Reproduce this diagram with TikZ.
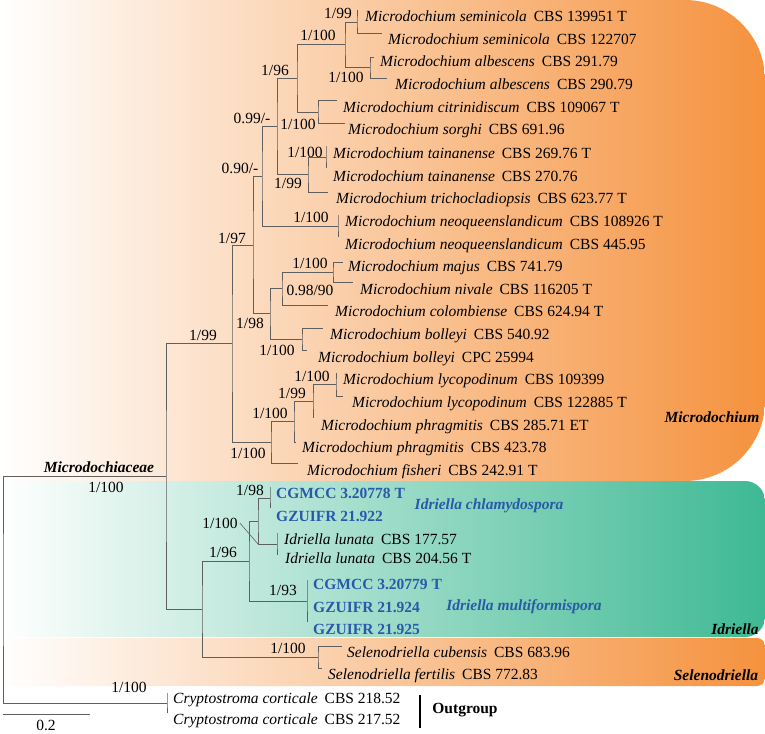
\documentclass[tikz,border=0pt]{standalone}
\usepackage{fontspec}
\setmainfont{Liberation Serif}
\usepackage{tikz}
\definecolor{mdorange}{RGB}{245,146,62}
\definecolor{idteal}{RGB}{62,185,147}
\definecolor{brgray}{RGB}{95,95,95}
\definecolor{idblue}{RGB}{40,90,170}
\newcommand{\taxon}[2]{\textit{#1}\hspace{0.45em}#2}

\begin{document}
\begin{tikzpicture}[x=1pt, y=-1pt, font=\fontsize{15.5}{18}\selectfont,
    branch/.style={brgray, line width=0.8pt},
    taxon/.style={anchor=base west, inner sep=0pt, yshift=-5pt},
    newtaxon/.style={taxon, idblue, font=\fontsize{15.5}{18}\selectfont\bfseries},
    support/.style={inner sep=0pt},
    clade/.style={inner sep=0pt, font=\fontsize{15.5}{18}\selectfont\bfseries\itshape}]
  \useasboundingbox (0,0) rectangle (765,733);

  % Clade backgrounds
  \shade[left color=white, right color=mdorange] %
    (0,0) -- (685,0) arc[start angle=-90, end angle=0, radius=80] %
    -- (765,401) arc[start angle=0, end angle=90, radius=80] -- (0,481) -- cycle;
  \shade[left color=white, right color=idteal] %
    (0,481) -- (745,481) arc[start angle=-90, end angle=0, radius=20] %
    -- (765,617) arc[start angle=0, end angle=90, radius=20] -- (0,637) -- cycle;
  \shade[left color=white, right color=mdorange] %
    (0,638) -- (757,638) arc[start angle=-90, end angle=0, radius=8] %
    -- (765,678) arc[start angle=0, end angle=90, radius=8] -- (0,686) -- cycle;

  % Tip ends
  \coordinate (semA) at (357,10);
  \coordinate (semB) at (382,33);
  \coordinate (albA) at (374,57);
  \coordinate (albB) at (387,78);
  \coordinate (cit) at (337,100);
  \coordinate (sor) at (345,123);
  \coordinate (taiA) at (326,146);
  \coordinate (taiB) at (326,168);
  \coordinate (tri) at (328,192);
  \coordinate (neoA) at (338,215);
  \coordinate (neoB) at (338,237);
  \coordinate (maj) at (343,262);
  \coordinate (niv) at (353,282);
  \coordinate (col) at (328,305);
  \coordinate (bolA) at (323,328);
  \coordinate (bolB) at (307,350);
  \coordinate (lycA) at (336,373);
  \coordinate (lycB) at (343,396);
  \coordinate (phrA) at (313,418);
  \coordinate (phrB) at (296,442);
  \coordinate (fis) at (298,463);
  \coordinate (chlA) at (270,487);
  \coordinate (chlB) at (270,508);
  \coordinate (lunA) at (277,533);
  \coordinate (lunB) at (277,555);
  \coordinate (mulA) at (307,580);
  \coordinate (mulC) at (307,622);
  \coordinate (cub) at (342,646);
  \coordinate (fer) at (322,668);
  \coordinate (cryA) at (167,693);
  \coordinate (cryB) at (167,713);

  % Internal nodes
  \coordinate (n-sem) at (357,22);
  \coordinate (n-alb) at (370,67);
  \coordinate (n-semalb) at (345,44);
  \coordinate (n-citsor) at (318,112);
  \coordinate (n-semcit) at (297,78);
  \coordinate (n-tai) at (326,157);
  \coordinate (n-taitri) at (308,174);
  \coordinate (n-up) at (277,126);
  \coordinate (n-neo) at (338,226);
  \coordinate (n-upneo) at (262,176);
  \coordinate (n-majniv) at (333,272);
  \coordinate (n-col) at (282,288);
  \coordinate (n-bol) at (302,339);
  \coordinate (n-colbol) at (270,313);
  \coordinate (n-core) at (253,245);
  \coordinate (n-lyc) at (336,384);
  \coordinate (n-lycphr) at (313,401);
  \coordinate (n-phr) at (294,421);
  \coordinate (n-fis) at (271,442);
  \coordinate (n-md) at (232,343);
  \coordinate (n-chl) at (270,498);
  \coordinate (n-lun) at (277,544);
  \coordinate (n-chllun) at (258,521);
  \coordinate (n-mul) at (307,601);
  \coordinate (n-idr) at (249,561);
  \coordinate (n-sel) at (318,657);
  \coordinate (n-idrsel) at (202,609);
  \coordinate (n-in) at (166,476);
  \coordinate (n-out) at (167,703);
  \coordinate (n-root) at (3,590);

  % Branches
  \draw[branch] (semA) -| (n-sem) |- (semB);
  \draw[branch] (albA) -| (n-alb) |- (albB);
  \draw[branch] (n-sem) -| (n-semalb) |- (n-alb);
  \draw[branch] (cit) -| (n-citsor) |- (sor);
  \draw[branch] (n-semalb) -| (n-semcit) |- (n-citsor);
  \draw[branch] (taiA) -| (n-tai) |- (taiB);
  \draw[branch] (n-tai) -| (n-taitri) |- (tri);
  \draw[branch] (n-semcit) -| (n-up) |- (n-taitri);
  \draw[branch] (neoA) -| (n-neo) |- (neoB);
  \draw[branch] (n-up) -| (n-upneo) |- (n-neo);
  \draw[branch] (maj) -| (n-majniv) |- (niv);
  \draw[branch] (n-majniv) -| (n-col) |- (col);
  \draw[branch] (bolA) -| (n-bol) |- (bolB);
  \draw[branch] (n-col) -| (n-colbol) |- (n-bol);
  \draw[branch] (n-upneo) -| (n-core) |- (n-colbol);
  \draw[branch] (lycA) -| (n-lyc) |- (lycB);
  \draw[branch] (n-lyc) -| (n-lycphr) |- (phrA);
  \draw[branch] (n-lycphr) -| (n-phr) |- (phrB);
  \draw[branch] (n-phr) -| (n-fis) |- (fis);
  \draw[branch] (n-core) -| (n-md) |- (n-fis);
  \draw[branch] (chlA) -| (n-chl) |- (chlB);
  \draw[branch] (lunA) -| (n-lun) |- (lunB);
  \draw[branch] (n-chl) -| (n-chllun) |- (n-lun);
  \draw[branch] (mulA) -| (n-mul) |- (mulC);
  \draw[branch] (n-chllun) -| (n-idr) |- (n-mul);
  \draw[branch] (cub) -| (n-sel) |- (fer);
  \draw[branch] (n-idr) -| (n-idrsel) |- (n-sel);
  \draw[branch] (n-md) -| (n-in) |- (n-idrsel);
  \draw[branch] (cryA) -| (n-out) |- (cryB);
  \draw[branch] (n-in) -| (n-root) |- (n-out);

  % Microdochium taxa
  \node[taxon] (txt-semA) at (365,17) {\taxon{Microdochium seminicola}{CBS 139951 T}};
  \node[taxon] (txt-semB) at (388,40) {\taxon{Microdochium seminicola}{CBS 122707}};
  \node[taxon] (txt-albA) at (380,62) {\taxon{Microdochium albescens}{CBS 291.79}};
  \node[taxon] (txt-albB) at (395,85) {\taxon{Microdochium albescens}{CBS 290.79}};
  \node[taxon] (txt-cit) at (343,108) {\taxon{Microdochium citrinidiscum}{CBS 109067 T}};
  \node[taxon] (txt-sor) at (348,130) {\taxon{Microdochium sorghi}{CBS 691.96}};
  \node[taxon] (txt-taiA) at (333,153) {\taxon{Microdochium tainanense}{CBS 269.76 T}};
  \node[taxon] (txt-taiB) at (333,176) {\taxon{Microdochium tainanense}{CBS 270.76}};
  \node[taxon] (txt-tri) at (336,198) {\taxon{Microdochium trichocladiopsis}{CBS 623.77 T}};
  \node[taxon] (txt-neoA) at (345,221) {\taxon{Microdochium neoqueenslandicum}{CBS 108926 T}};
  \node[taxon] (txt-neoB) at (345,244) {\taxon{Microdochium neoqueenslandicum}{CBS 445.95}};
  \node[taxon] (txt-maj) at (348,266) {\taxon{Microdochium majus}{CBS 741.79}};
  \node[taxon] (txt-niv) at (360,289) {\taxon{Microdochium nivale}{CBS 116205 T}};
  \node[taxon] (txt-col) at (335,311) {\taxon{Microdochium colombiense}{CBS 624.94 T}};
  \node[taxon] (txt-bolA) at (330,334) {\taxon{Microdochium bolleyi}{CBS 540.92}};
  \node[taxon] (txt-bolB) at (318,357) {\taxon{Microdochium bolleyi}{CPC 25994}};
  \node[taxon] (txt-lycA) at (343,379) {\taxon{Microdochium lycopodinum}{CBS 109399}};
  \node[taxon] (txt-lycB) at (352,402) {\taxon{Microdochium lycopodinum}{CBS 122885 T}};
  \node[taxon] (txt-phrA) at (321,425) {\taxon{Microdochium phragmitis}{CBS 285.71 ET}};
  \node[taxon] (txt-phrB) at (302,447) {\taxon{Microdochium phragmitis}{CBS 423.78}};
  \node[taxon] (txt-fis) at (307,470) {\taxon{Microdochium fisheri}{CBS 242.91 T}};

  % Idriella taxa
  \node[newtaxon] (txt-chlA) at (276,493) {CGMCC 3.20778 T};
  \node[newtaxon] (txt-chlB) at (276,516) {GZUIFR 21.922};
  \node[taxon] (txt-lunA) at (284,539) {\taxon{Idriella lunata}{CBS 177.57}};
  \node[taxon] (txt-lunB) at (285,558) {\taxon{Idriella lunata}{CBS 204.56 T}};
  \node[newtaxon] (txt-mulA) at (313,584) {CGMCC 3.20779 T};
  \node[newtaxon] (txt-mulB) at (313,607) {GZUIFR 21.924};
  \node[newtaxon] (txt-mulC) at (313,629) {GZUIFR 21.925};

  % Selenodriella and outgroup taxa
  \node[taxon] (txt-cub) at (347,652) {\taxon{Selenodriella cubensis}{CBS 683.96}};
  \node[taxon] (txt-fer) at (328,674) {\taxon{Selenodriella fertilis}{CBS 772.83}};
  \node[taxon] (txt-cryA) at (173,698) {\taxon{Cryptostroma corticale}{CBS 218.52}};
  \node[taxon] (txt-cryB) at (173,719) {\taxon{Cryptostroma corticale}{CBS 217.52}};

  % Support values
  \node[support] (s-sem) at (338,13) {1/99};
  \node[support] (s-semalb) at (318,35) {1/100};
  \node[support] (s-semcit) at (275,70) {1/96};
  \node[support] (s-alb) at (346,77) {1/100};
  \node[support] (s-up) at (252,118) {0.99/-};
  \node[support] (s-citsor) at (298,124) {1/100};
  \node[support] (s-tai) at (305,152) {1/100};
  \node[support] (s-upneo) at (240,168) {0.90/-};
  \node[support] (s-taitri) at (288,183) {1/99};
  \node[support] (s-neo) at (311,217) {1/100};
  \node[support] (s-core) at (232,238) {1/97};
  \node[support] (s-majniv) at (310,263) {1/100};
  \node[support] (s-col) at (310,290) {0.98/90};
  \node[support] (s-colbol) at (250,323) {1/98};
  \node[support] (s-md) at (203,335) {1/99};
  \node[support] (s-bol) at (277,350) {1/100};
  \node[support] (s-lyc) at (312,376) {1/100};
  \node[support] (s-lycphr) at (292,393) {1/99};
  \node[support] (s-phr) at (270,413) {1/100};
  \node[support] (s-fis) at (248,453) {1/100};
  \node[support] (s-in) at (106,487) {1/100};
  \node[support] (s-chl) at (250,490) {1/98};
  \node[support] (s-chllun) at (220,523) {1/100};
  \node[support] (s-idr) at (223,552) {1/96};
  \node[support] (s-mul) at (283,590) {1/93};
  \node[support] (s-sel) at (288,648) {1/100};
  \node[support] (s-out) at (129,687) {1/100};

  % Pointer to the lunata/chlamydospora node
  \draw[brgray, line width=0.6pt] (s-chllun.east) ++(2,0) -- (n-chllun |- n-lun);

  % Clade names
  \node[clade] (c-fam) at (99,467) {Microdochiaceae};
  \node[clade] (c-md) at (712,417) {Microdochium};
  \node[clade] (c-idr) at (735,629) {Idriella};
  \node[clade] (c-sel) at (716,675) {Selenodriella};
  \node[clade, idblue] (sp-chl) at (489,506) {Idriella chlamydospora};
  \node[clade, idblue] (sp-mul) at (524,607) {Idriella multiformispora};

  % Outgroup bar
  \coordinate (og-top) at (420,695);
  \coordinate (og-bot) at (420,728);
  \draw[black, line width=2.4pt] (og-top) -- (og-bot);
  \node[inner sep=0pt, font=\fontsize{15.5}{18}\selectfont\bfseries] (c-out) at (465,710) {Outgroup};

  % Scale bar
  \coordinate (sc-l) at (3,714);
  \coordinate (sc-r) at (90,714);
  \draw[branch] (sc-l) -- (sc-r);
  \node[support] (sc-lbl) at (46,725) {0.2};
\end{tikzpicture}
\end{document}
